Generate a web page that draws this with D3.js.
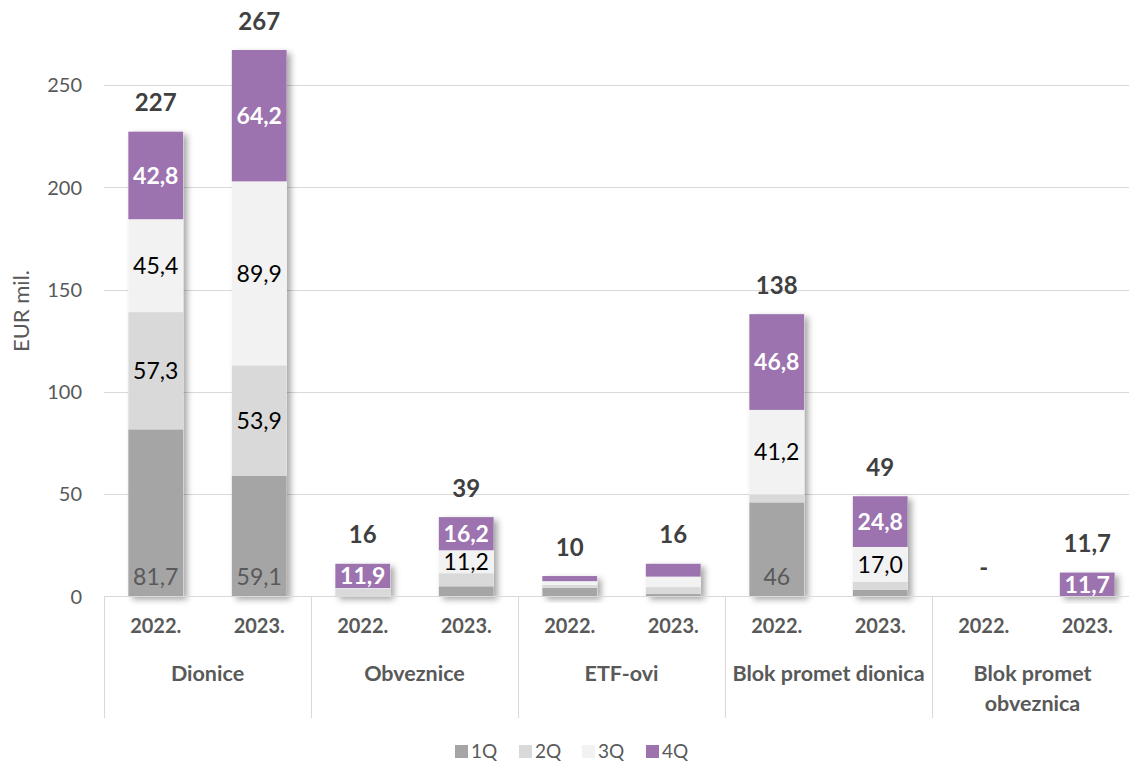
<!DOCTYPE html>
<html>
<head>
<meta charset="utf-8">
<script src="https://cdn.jsdelivr.net/npm/d3@7"></script>
<style>
  html, body { margin: 0; padding: 0; background: #fff; }
  svg { display: block; font-family: Lato, "Noto Sans", sans-serif; }
</style>
</head>
<body>
<svg id="chart" width="1129" height="763"></svg>
<script>
  // category groups and years
  const groups = ['Dionice', 'Obveznice', 'ETF-ovi', 'Blok promet dionica', 'Blok promet obveznica'];
  const groupLines = [['Dionice'], ['Obveznice'], ['ETF-ovi'], ['Blok promet dionica'], ['Blok promet', 'obveznica']];
  const years = ['2022.', '2023.'];
  const quarters = ['1Q', '2Q', '3Q', '4Q'];
  const colors = ['#a5a5a5', '#d9d9d9', '#f2f2f2', '#9c73af'];

  // values per bar (group x year), order as groups/years
  const q1 = [81.7, 59.1, 0.3, 5.0, 4.3, 1.2, 46.0, 3.2, 0, 0];
  const q2 = [57.3, 53.9, 3.5, 6.4, 1.4, 3.4, 4.0, 4.0, 0, 0];
  const q3 = [45.4, 89.9, 0.3, 11.2, 1.8, 5.1, 41.2, 17.0, 0, 0];
  const q4 = [42.8, 64.2, 11.9, 16.2, 2.5, 6.3, 46.8, 24.8, 0, 11.7];

  // labels shown on segments (null = hidden)
  const q1Labels = ['81,7', '59,1', null, null, null, null, '46', null, null, null];
  const q2Labels = ['57,3', '53,9', null, null, null, null, null, null, null, null];
  const q3Labels = ['45,4', '89,9', null, '11,2', null, null, '41,2', '17,0', null, null];
  const q4Labels = ['42,8', '64,2', '11,9', '16,2', null, null, '46,8', '24,8', null, '11,7'];
  const totalLabels = ['227', '267', '16', '39', '10', '16', '138', '49', '-', '11,7'];

  const yTicks = [0, 50, 100, 150, 200, 250];

  const svg = d3.select('#chart');
  const baseY = 596.5;

  const defs = svg.append('defs');
  const filt = defs.append('filter').attr('id', 'shadow')
    .attr('x', '-20%').attr('y', '-20%').attr('width', '150%').attr('height', '150%');
  filt.append('feDropShadow').attr('dx', 4).attr('dy', 3).attr('stdDeviation', 3)
    .attr('flood-color', '#000').attr('flood-opacity', 0.35);

  const y = d3.scaleLinear().domain([0, 250]).range([baseY, 85]);
  const xGroup = d3.scaleBand().domain(groups).range([104, 1139]).padding(0);
  const xYear = d3.scaleBand().domain(years).range([0, xGroup.bandwidth()])
    .paddingInner(0.47).paddingOuter(0.235);

  // gridlines
  svg.append('g').selectAll('line').data(yTicks.slice(1)).join('line')
    .attr('x1', 104).attr('x2', 1129)
    .attr('y1', function (d) { return Math.round(y(d)) + 0.5; })
    .attr('y2', function (d) { return Math.round(y(d)) + 0.5; })
    .attr('stroke', '#d9d9d9').attr('stroke-width', 1);

  // y axis labels
  svg.append('g').selectAll('text').data(yTicks).join('text')
    .attr('x', 82).attr('y', function (d) { return y(d); })
    .attr('dy', '0.36em').attr('text-anchor', 'end')
    .attr('font-size', 20).attr('fill', '#595959')
    .text(function (d) { return d; });

  svg.append('text')
    .attr('transform', 'translate(29,' + 311 + ') rotate(-90)')
    .attr('text-anchor', 'middle').attr('font-size', 22).attr('fill', '#595959')
    .text('EUR mil.');

  // bar data
  const series = [q1, q2, q3, q4];
  const labelSets = [q1Labels, q2Labels, q3Labels, q4Labels];
  const bars = [];
  groups.forEach(function (g, gi) {
    years.forEach(function (yr, yi) {
      const idx = gi * 2 + yi;
      let acc = 0;
      const segs = series.map(function (s, qi) {
        const seg = { q: qi, y0: acc, y1: acc + s[idx], label: labelSets[qi][idx] };
        acc += s[idx];
        return seg;
      });
      bars.push({ group: g, year: yr, idx: idx, segs: segs, total: acc, totalLabel: totalLabels[idx] });
    });
  });

  const barG = svg.append('g').selectAll('g').data(bars).join('g')
    .attr('transform', function (d) { return 'translate(' + (xGroup(d.group) + xYear(d.year)) + ',0)'; });

  // shadow under whole stack
  barG.filter(function (d) { return d.total > 0; }).append('rect')
    .attr('x', 0).attr('width', xYear.bandwidth())
    .attr('y', function (d) { return y(d.total); })
    .attr('height', function (d) { return y(0) - y(d.total); })
    .attr('fill', '#fff').attr('filter', 'url(#shadow)');

  barG.selectAll('rect.seg').data(function (d) { return d.segs.filter(function (s) { return s.y1 > s.y0; }); })
    .join('rect').attr('class', 'seg')
    .attr('x', 0).attr('width', xYear.bandwidth())
    .attr('y', function (s) { return y(s.y1); })
    .attr('height', function (s) { return y(s.y0) - y(s.y1); })
    .attr('fill', function (s) { return colors[s.q]; });

  // segment labels
  barG.selectAll('text.seg').data(function (d) { return d.segs.filter(function (s) { return s.label; }); })
    .join('text').attr('class', 'seg')
    .attr('x', xYear.bandwidth() / 2)
    .attr('y', function (s) {
      if (s.q === 0) return y(0) - 20;
      return (y(s.y0) + y(s.y1)) / 2;
    })
    .attr('dy', '0.36em').attr('text-anchor', 'middle')
    .attr('font-size', 23)
    .attr('font-weight', function (s) { return s.q === 3 ? 700 : 400; })
    .attr('fill', function (s) { return s.q === 3 ? '#fff' : (s.q === 0 ? '#595959' : '#000'); })
    .text(function (s) { return s.label; });

  // totals
  barG.append('text')
    .attr('x', xYear.bandwidth() / 2)
    .attr('y', function (d) { return y(d.total) - 29; })
    .attr('dy', '0.36em').attr('text-anchor', 'middle')
    .attr('font-size', 24).attr('font-weight', 700).attr('fill', '#404040')
    .text(function (d) { return d.totalLabel; });

  // category axis
  const axisG = svg.append('g');
  axisG.append('line').attr('x1', 104).attr('x2', 1129)
    .attr('y1', baseY).attr('y2', baseY).attr('stroke', '#d9d9d9');
  axisG.selectAll('line.div').data(groups).join('line').attr('class', 'div')
    .attr('x1', function (g) { return Math.round(xGroup(g)) + 0.5; })
    .attr('x2', function (g) { return Math.round(xGroup(g)) + 0.5; })
    .attr('y1', baseY).attr('y2', 718).attr('stroke', '#d9d9d9');

  groups.forEach(function (g, gi) {
    years.forEach(function (yr) {
      axisG.append('text')
        .attr('x', xGroup(g) + xYear(yr) + xYear.bandwidth() / 2).attr('y', 626)
        .attr('dy', '0.36em').attr('text-anchor', 'middle')
        .attr('font-size', 20).attr('font-weight', 700).attr('fill', '#595959')
        .text(yr);
    });
    groupLines[gi].forEach(function (line, li) {
      axisG.append('text')
        .attr('x', xGroup(g) + xGroup.bandwidth() / 2 - (gi === 4 ? 3 : 0)).attr('y', 673 + li * 30)
        .attr('dy', '0.36em').attr('text-anchor', 'middle')
        .attr('font-size', 21.5).attr('font-weight', 700).attr('fill', '#595959')
        .text(line);
    });
  });

  // legend
  const legendX = [455, 519, 582, 646];
  const legG = svg.append('g').selectAll('g').data(quarters).join('g')
    .attr('transform', function (d, i) { return 'translate(' + legendX[i] + ',745)'; });
  legG.append('rect').attr('width', 13).attr('height', 13)
    .attr('fill', function (d, i) { return colors[i]; });
  legG.append('text').attr('x', 16).attr('y', 6.5).attr('dy', '0.36em')
    .attr('font-size', 19).attr('fill', '#595959')
    .text(function (d) { return d; });
</script>
</body>
</html>
